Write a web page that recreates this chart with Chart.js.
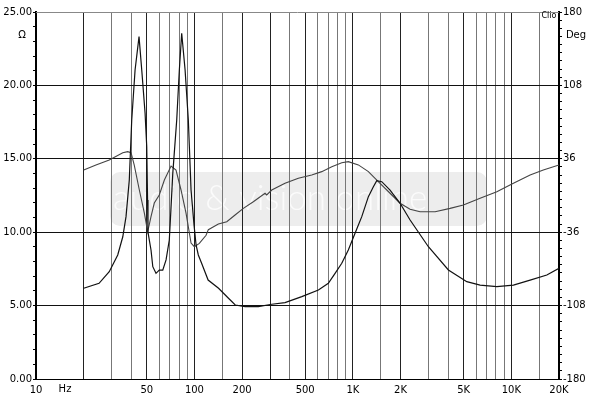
<!DOCTYPE html>
<html>
<head>
<meta charset="utf-8">
<script src="https://cdn.jsdelivr.net/npm/chart.js@4"></script>
<style>
  html, body { margin: 0; padding: 0; background: #fff; }
  #wrap { width: 600px; height: 396px; }
</style>
</head>
<body>
<div id="wrap"><canvas id="chartCanvas"></canvas></div>
<script>
// impedance curve (ohm, left axis)
const impFreq = [20, 25, 29, 32.8, 35.3, 37, 38.8, 40.2, 42.2, 44.7,
  46.5, 48.8, 50, 50.6, 50.9, 53.2, 54.6, 57.2, 60, 63.1,
  66.2, 69.4, 71.2, 73, 77.3, 80.3, 83.1, 87.3, 91.5, 92.9,
  95.2, 99.4, 102.4, 105.8, 111, 122, 142, 164, 181, 209,
  253, 308, 373, 476, 606, 700, 772, 851, 936, 1032,
  1138, 1253, 1347, 1415, 1522, 1717, 1986, 2297, 2997, 4008,
  5237, 6353, 8101, 10311, 13146, 16760, 20000];
const impOhm = [6.18, 6.52, 7.31, 8.45, 9.69, 11.06, 13.56, 17.64, 21.05, 23.32,
  21.05, 18.12, 15.82, 12.19, 10.0, 8.79, 7.65, 7.20, 7.42, 7.42,
  8.11, 9.47, 11.74, 14.01, 17.64, 21.05, 23.55, 21.05, 17.64, 15.82,
  12.87, 10.49, 9.13, 8.45, 7.88, 6.74, 6.18, 5.50, 5.04, 4.93,
  4.93, 5.09, 5.20, 5.61, 6.06, 6.52, 7.20, 7.88, 8.79, 9.93,
  11.06, 12.42, 13.10, 13.51, 13.44, 12.87, 11.97, 10.83, 9.01, 7.43,
  6.63, 6.40, 6.29, 6.40, 6.74, 7.08, 7.54];

// phase curve (degrees, right axis)
const phaseFreq = [20, 23.9, 29, 35.3, 37.9, 39.8, 41.7, 44.9, 48.3, 50.7,
  53.2, 55.8, 60, 64.6, 71.2, 76.5, 82.3, 88.5, 95.2, 99.9,
  107.4, 118.4, 122.4, 141.6, 160, 180.5, 203.6, 235.4, 279, 286,
  307.6, 373, 452.7, 550, 636, 736, 851, 936, 1083, 1253,
  1381, 1485, 1717, 1986, 2297, 2656, 3304, 4108, 4984, 6353,
  8101, 10311, 13146, 15922, 20000];
const phaseDeg = [25.0, 29.9, 34.8, 42.0, 43.0, 42.0, 29.9, 5.4, -17.2, -35.5,
  -20.8, -7.4, 0.5, 15.2, 28.9, 25.0, 5.4, -17.2, -46.6, -50.2,
  -47.0, -39.0, -33.5, -28.0, -25.7, -19.1, -12.6, -6.1, 2.2, 0.5,
  5.4, 12.0, 16.9, 20.1, 23.4, 28.3, 32.2, 33.2, 30.0, 23.4,
  16.9, 12.0, 2.2, -7.6, -13.5, -15.9, -15.9, -12.6, -9.3, -2.7,
  3.7, 12.0, 20.1, 25.0, 29.9];

// frequency grid and labels
const gridFreqs = [10, 20, 30, 40, 50, 60, 70, 80, 90, 100, 150,
  200, 300, 400, 500, 600, 700, 800, 900, 1000, 1500,
  2000, 3000, 4000, 5000, 6000, 7000, 8000, 9000, 10000, 15000, 20000];
const freqLabels = {10: '10', 50: '50', 100: '100', 200: '200', 500: '500',
  1000: '1K', 2000: '2K', 5000: '5K', 10000: '10K', 20000: '20K'};

const ohmMajor = [0, 5, 10, 15, 20, 25];
const degMajor = [-180, -108, -36, 36, 108, 180];

const toPoints = (xs, ys) => xs.map((x, i) => ({x: x, y: ys[i]}));
const FONT = {family: 'DejaVu Sans', size: 10};

// extra texts, frame and watermark
const decor = {
  id: 'decor',
  beforeDraw(chart) {
    const {ctx} = chart;
    ctx.save();
    ctx.fillStyle = '#ededed';
    ctx.beginPath();
    ctx.roundRect(110, 172, 377, 54, 10);
    ctx.fill();
    ctx.fillStyle = '#fbfbfb';
    ctx.font = '300 35px Lato';
    ctx.textBaseline = 'middle';
    ctx.fillText('audio & vision online', 113, 199);
    ctx.restore();
  },
  afterDraw(chart) {
    const {ctx, chartArea: a} = chart;
    ctx.save();
    ctx.strokeStyle = '#888';
    ctx.lineWidth = 1;
    ctx.beginPath();
    ctx.moveTo(a.left, a.top + 0.5);
    ctx.lineTo(a.right, a.top + 0.5);
    ctx.stroke();
    ctx.fillStyle = '#000';
    ctx.font = '10px "DejaVu Sans"';
    ctx.textBaseline = 'middle';
    ctx.textAlign = 'center';
    ctx.fillText('Ω', 22, 35);
    ctx.fillText('Deg', 576, 35);
    ctx.fillText('Hz', 65, 389);
    ctx.font = '8px "DejaVu Sans"';
    ctx.fillText('Clio', 549, 16);
    ctx.restore();
  }
};

new Chart(document.getElementById('chartCanvas'), {
  type: 'scatter',
  data: {
    datasets: [{
      label: 'Impedance',
      data: toPoints(impFreq, impOhm),
      yAxisID: 'y',
      showLine: true,
      borderColor: '#111',
      borderWidth: 1.2,
      pointRadius: 0,
      tension: 0
    }, {
      label: 'Phase',
      data: toPoints(phaseFreq, phaseDeg),
      yAxisID: 'y1',
      showLine: true,
      borderColor: '#444',
      borderWidth: 1.1,
      pointRadius: 0,
      tension: 0
    }]
  },
  options: {
    responsive: true,
    maintainAspectRatio: false,
    animation: false,
    layout: {padding: {top: 12}},
    plugins: {legend: {display: false}, tooltip: {enabled: false}},
    scales: {
      x: {
        type: 'logarithmic',
        min: 10,
        max: 20000,
        afterBuildTicks: s => { s.ticks = gridFreqs.map(v => ({value: v})); },
        afterFit: s => { s.height = 17; },
        border: {color: '#000', width: 1},
        grid: {
          drawTicks: false,
          color: c => (c.tick.value === 10 || c.tick.value === 20000) ? 'transparent'
            : (freqLabels[c.tick.value] || c.tick.value === 20 || c.tick.value === 300 ? '#222' : '#777')
        },
        ticks: {
          autoSkip: false,
          maxRotation: 0,
          padding: 5,
          color: '#000',
          font: FONT,
          callback: v => freqLabels[v] || ''
        }
      },
      y: {
        position: 'left',
        min: 0,
        max: 25,
        afterBuildTicks: s => {
          const t = [];
          for (let v = 0; v <= 25; v++) t.push({value: v});
          s.ticks = t;
        },
        afterFit: s => { s.width = 36; },
        border: {color: '#000', width: 2},
        grid: {
          tickLength: 3,
          tickColor: '#000',
          color: c => (ohmMajor.includes(c.tick.value) && c.tick.value > 0 && c.tick.value < 25) ? '#111' : 'transparent'
        },
        ticks: {
          autoSkip: false,
          padding: 1,
          color: '#000',
          font: FONT,
          callback: v => ohmMajor.includes(v) ? v.toFixed(2) : ''
        }
      },
      y1: {
        position: 'right',
        min: -180,
        max: 180,
        afterBuildTicks: s => {
          const t = [];
          for (let v = -180; v <= 180; v += 8) t.push({value: v});
          s.ticks = t;
        },
        afterFit: s => { s.width = 41; },
        border: {color: '#000', width: 2},
        grid: {drawOnChartArea: false, tickLength: 3, tickColor: '#000'},
        ticks: {
          autoSkip: false,
          padding: 1,
          color: '#000',
          font: FONT,
          callback: v => degMajor.includes(v) ? String(v) : ''
        }
      }
    }
  },
  plugins: [decor]
});
</script>
</body>
</html>
